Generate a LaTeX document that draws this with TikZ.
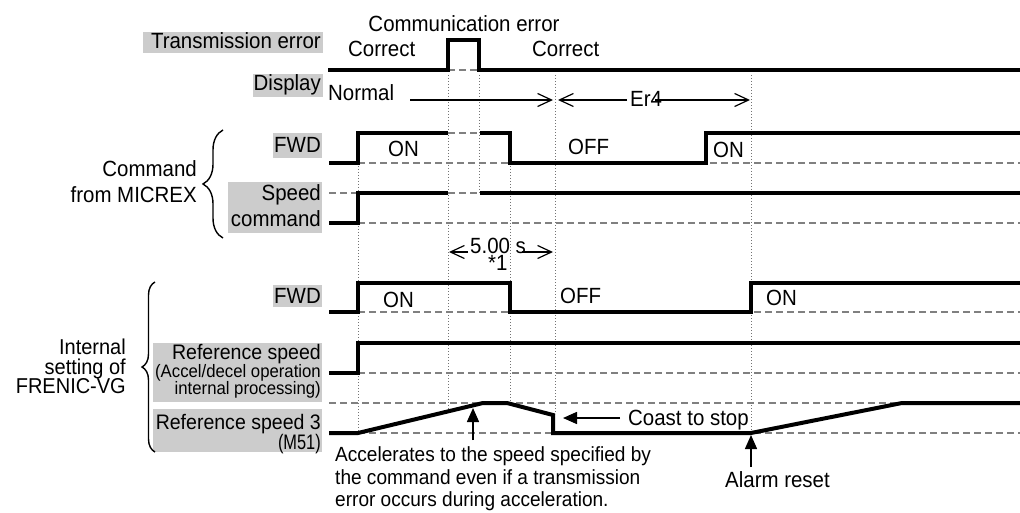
\documentclass[tikz,border=0pt]{standalone}
\usepackage{fontspec}
\setmainfont{Liberation Sans}[FakeStretch=0.93]
\usetikzlibrary{arrows.meta,decorations.pathreplacing}
\tikzset{
  wave/.style={line width=4pt, line join=miter, line cap=butt},
  guide/.style={line width=1.4pt, draw=black!50, dash pattern=on 7pt off 4pt},
  vdot/.style={line width=1pt, draw=black!55, dash pattern=on 1pt off 2pt},
  glab/.style={fill=black!20},
  txt/.style={inner sep=0pt, font=\fontsize{22}{24}\selectfont},
  itxt/.style={inner sep=0pt, font=\fontsize{21.5}{24}\selectfont},
  rtxt/.style={inner sep=0pt, font=\fontsize{21}{22}\selectfont},
  stxt/.style={inner sep=0pt, font=\fontsize{20.5}{22}\selectfont},
  mtxt/.style={inner sep=0pt, font=\fontsize{18}{20}\selectfont},
  barb/.style={line width=1.2pt, -{Straight Barb[length=14pt,width=13pt,line width=1.2pt]}},
  tri/.style={line width=1.5pt, -{Triangle[length=14pt,width=12pt]}},
  bracestyle/.style={line width=1.4pt, decorate},
}
\begin{document}
\begin{tikzpicture}[x=1pt,y=-1pt]
\useasboundingbox (0,0) rectangle (1020,513);

% ---- gray label backgrounds
\fill[glab] (143,32) rectangle (323,53);
\fill[glab] (253,74) rectangle (323,97);
\fill[glab] (273,133) rectangle (322,158);
\fill[glab] (228,182) rectangle (322,233);
\fill[glab] (273,285) rectangle (322,307);
\fill[glab] (153,343) rectangle (322,402);
\fill[glab] (153,409) rectangle (322,452);

% ---- labels
\node[txt, anchor=base east] (trans) at (321,49) {Transmission error};
\node[txt, anchor=base east] (disp) at (321,91) {Display};
\node[txt, anchor=base east] (fwdc) at (321,153) {FWD};
\node[txt, anchor=base east] (spdA) at (321,200.5) {Speed};
\node[txt, anchor=base east] (spdB) at (321,226.5) {command};
\node[txt, anchor=base east] (fwdi) at (321,303) {FWD};
\node[rtxt, anchor=base east] (refA) at (321,359) {Reference speed};
\node[mtxt, anchor=base east] (refB) at (321,377) {(Accel/decel operation};
\node[mtxt, anchor=base east] (refC) at (321,394.5) {internal processing)};
\node[rtxt, anchor=base east] (rsA) at (321,429.5) {Reference speed 3};
\node[rtxt, anchor=base east] (rsB) at (321,449.5) {\addfontfeature{FakeStretch=0.78}(M51)};

% ---- group labels and braces
\node[txt, anchor=base east] (cmdA) at (197,177) {Command};
\node[txt, anchor=base east] (cmdB) at (197,203) {from MICREX};
\node[itxt, anchor=base east] (intA) at (126,354.5) {Internal};
\node[itxt, anchor=base east] (intB) at (126,374) {setting of};
\node[itxt, anchor=base east] (intC) at (126,393.5) {FRENIC-VG};
\coordinate (bc1) at (223,238);
\coordinate (bc2) at (223,130);
\coordinate (bi1) at (155,452);
\coordinate (bi2) at (155,282);
\draw[bracestyle, decoration={brace, amplitude=20pt}] (bc1) -- (bc2);
\draw[bracestyle, decoration={brace, amplitude=13pt}] (bi1) -- (bi2);

% ---- dotted time markers
\draw[vdot] (358,163) -- (358,433);
\draw[vdot] (448,75) -- (448,411);
\draw[vdot] (479,75) -- (479,193);
\draw[vdot] (510,163) -- (510,404);
\draw[vdot] (555,75) -- (555,414);
\draw[vdot] (751,75) -- (751,433);

% ---- dashed reference levels
\draw[guide] (448,70) -- (479,70);
\draw[guide] (448,133) -- (480,133);
\draw[guide] (358,163) -- (1020,163);
\draw[guide] (329,193) -- (358,193);
\draw[guide] (448,193) -- (480,193);
\draw[guide] (358,223) -- (1020,223);
\draw[guide] (358,312) -- (1020,312);
\draw[guide] (358,373) -- (1020,373);
\draw[guide] (329,403) -- (902,403);
\draw[guide] (358,433) -- (1020,433);

% ---- waveforms
\draw[wave] (328,70) -- (448,70) -- (448,40) -- (479,40) -- (479,70) -- (1020,70);
\draw[wave] (329,163) -- (358,163) -- (358,133) -- (448,133);
\draw[wave] (480,133) -- (510,133) -- (510,163) -- (706,163) -- (706,133) -- (1020,133);
\draw[wave] (329,223) -- (358,223) -- (358,193) -- (448,193);
\draw[wave] (480,193) -- (1020,193);
\draw[wave] (329,312) -- (358,312) -- (358,283) -- (510,283) -- (510,312) -- (751,312) -- (751,283) -- (1020,283);
\draw[wave] (329,373) -- (358,373) -- (358,343) -- (1020,343);
\draw[wave] (329,433) -- (358,433) -- (483,403) -- (507,403) -- (553,415) -- (553,433) -- (751,433) -- (902,403) -- (1020,403);

% ---- waveform texts
\node[txt, anchor=base] (comm) at (464,32) {Communication error};
\node[txt, anchor=base west] (corA) at (348,57) {Correct};
\node[txt, anchor=base west] (corB) at (532,57) {Correct};
\node[txt, anchor=base west] (normal) at (328,101) {Normal};
\node[txt, anchor=base west] (er) at (630,107) {Er4};
\node[txt, anchor=base west] (onA) at (388,157) {ON};
\node[txt, anchor=base west] (offA) at (568,155) {OFF};
\node[txt, anchor=base west] (onB) at (713,158) {ON};
\node[txt, anchor=base west] (onC) at (383,307) {ON};
\node[txt, anchor=base west] (offB) at (560,303) {OFF};
\node[txt, anchor=base west] (onD) at (766,305) {ON};
\node[txt, anchor=base west] (tsec) at (470,253) {5.00 s};
\node[txt, anchor=base west] (note) at (488,270) {*1};
\node[txt, anchor=base west] (coast) at (628,425) {Coast to stop};
\node[stxt, anchor=base west] (accA) at (335,461) {Accelerates to the speed specified by};
\node[stxt, anchor=base west] (accB) at (335,484) {the command even if a transmission};
\node[stxt, anchor=base west] (accC) at (335,506) {error occurs during acceleration.};
\node[txt, anchor=base west] (alarm) at (725,487) {Alarm reset};

% ---- display arrows
\coordinate (dn1) at (410,100);
\coordinate (dn2) at (553,100);
\coordinate (de1) at (627,100);
\coordinate (de2) at (558,100);
\coordinate (de3) at (655,100);
\coordinate (de4) at (750,100);
\draw[barb] (dn1) -- (dn2);
\draw[barb] (de1) -- (de2);
\draw[barb] (de3) -- (de4);

% ---- 5.00 s arrows
\coordinate (t1) at (468,252);
\coordinate (t2) at (449,252);
\coordinate (t3) at (522,252);
\coordinate (t4) at (553,252);
\draw[barb] (t1) -- (t2);
\draw[barb] (t3) -- (t4);

% ---- annotation arrows
\coordinate (accTail) at (473,440);
\coordinate (accTip) at (473,408);
\coordinate (coastTail) at (620,418);
\coordinate (coastTip) at (563,418);
\coordinate (alTail) at (751,467);
\coordinate (alTip) at (751,435);
\draw[tri] (accTail) -- (accTip);
\draw[tri] (coastTail) -- (coastTip);
\draw[tri] (alTail) -- (alTip);
\end{tikzpicture}
\end{document}
